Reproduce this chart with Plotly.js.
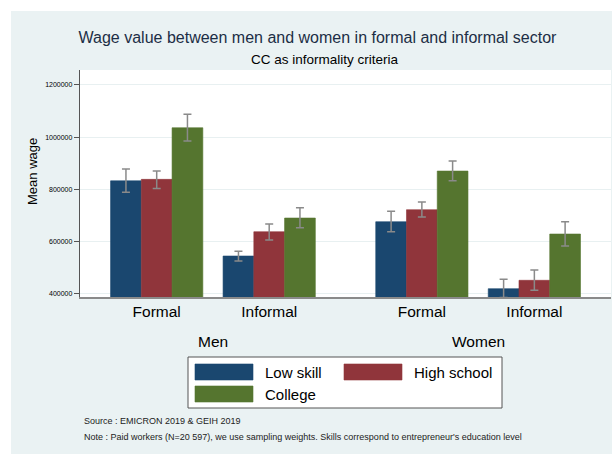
<!DOCTYPE html>
<html>
<head>
<meta charset="utf-8">
<script src="https://cdn.plot.ly/plotly-3.0.1.min.js"></script>
<style>html,body{margin:0;padding:0;background:#fff;}#chart{width:612px;height:454px;}</style>
</head>
<body>
<div id="chart"></div>
<script>
// ---- data ----
const genders = ["Men", "Women"];
const sectors = ["Formal", "Informal"];
const seriesNames = ["Low skill", "High school", "College"];
// values ordered: Men-Formal, Men-Informal, Women-Formal, Women-Informal
const lowSkill   = [833000, 545300, 676500, 420300];
const highSchool = [838600, 638200, 722400, 452400];
const college    = [1036000, 690600, 870400, 629400];
const lowSkillHi   = [878000, 563300, 716200, 456200];
const lowSkillLo   = [789000, 526200, 638200, 387000];
const highSchoolHi = [871000, 667700, 751800, 491800];
const highSchoolLo = [804000, 606500, 694500, 414100];
const collegeHi    = [1088000, 730000, 908600, 676500];
const collegeLo    = [985000, 653500, 833300, 583500];
const yTicks = [400000, 600000, 800000, 1000000, 1200000];
const titleText = "Wage value between men and women in formal and informal sector";
const subtitleText = "CC as informality criteria";
const yTitle = "Mean wage";
const sourceText = "Source : EMICRON 2019 & GEIH 2019";
const noteText = "Note : Paid workers (N=20 597), we use sampling weights. Skills correspond to entrepreneur's education level";

// ---- layout helpers ----
const L = 80, R = 611, T = 70, B = 297;
const fx = p => (p - L) / (R - L);
const fy = p => (B - p) / (B - T);
const colors = ["#1a476f", "#90353b", "#55752f"];
const genderStep = 2.357;
const positions = [];
const tickText = [];
genders.forEach((g, gi) => sectors.forEach((s, si) => { positions.push(1 + si + gi * genderStep); tickText.push(s); }));

const vals = [lowSkill, highSchool, college];
const his = [lowSkillHi, highSchoolHi, collegeHi];
const los = [lowSkillLo, highSchoolLo, collegeLo];

const traces = seriesNames.map((name, i) => ({
  type: "bar", name: name, x: positions, y: vals[i],
  marker: { color: colors[i], line: { width: 0.6, color: colors[i] } },
  error_y: { type: "data", symmetric: false,
    array: his[i].map((h, k) => h - vals[i][k]),
    arrayminus: los[i].map((l, k) => vals[i][k] - l),
    color: "#8a8a8a", thickness: 1.5, width: 4 },
  showlegend: false, hoverinfo: "skip"
}));

const FONT = "Liberation Sans, Arial, sans-serif";
function note(text, x, y, size, opts) {
  return Object.assign({ text: text, xref: "paper", yref: "paper", x: x, y: y, xanchor: "center", yanchor: "middle",
    showarrow: false, font: { family: FONT, size: size, color: "#000" } }, opts || {});
}
const annotations = [
  note(subtitleText, fx(324.5), fy(59), 13.5),
  note(yTitle, fx(32), fy(172), 13, { textangle: -90 }),
  note(sourceText, fx(82), fy(420.5), 9, { xanchor: "left", font: { family: FONT, size: 9, color: "#222" } }),
  note(noteText, fx(82), fy(437), 9, { xanchor: "left", font: { family: FONT, size: 9, color: "#222" } })
];
genders.forEach((g, gi) => {
  const xc = (positions[gi * 2] + positions[gi * 2 + 1]) / 2;
  annotations.push(note(g, xc, fy(341.5), 15.5, { xref: "x" }));
});

// custom legend
const shapes = [
  { type: "rect", xref: "paper", yref: "paper", x0: fx(0), x1: fx(612), y0: fy(0), y1: fy(11), fillcolor: "#fff", line: { width: 0 } },
  { type: "rect", xref: "paper", yref: "paper", x0: fx(0), x1: fx(11), y0: fy(0), y1: fy(454), fillcolor: "#fff", line: { width: 0 } },
  { type: "rect", xref: "paper", yref: "paper", x0: fx(188), x1: fx(502), y0: fy(357), y1: fy(408), fillcolor: "#fff", line: { width: 1, color: "#555" } }
];
const legendSlots = [ { sx: 195, ty: 372 }, { sx: 344, ty: 372 }, { sx: 195, ty: 394 } ];
seriesNames.forEach((name, i) => {
  const s = legendSlots[i];
  shapes.push({ type: "rect", xref: "paper", yref: "paper", x0: fx(s.sx), x1: fx(s.sx + 58), y0: fy(s.ty - 8), y1: fy(s.ty + 8), fillcolor: colors[i], line: { width: 0.6, color: colors[i] } });
  annotations.push(note(name, fx(s.sx + 68), fy(s.ty), 15, { xanchor: "left" }));
});

const layout = {
  width: 612, height: 454,
  margin: { l: L, r: 612 - R, t: T, b: 454 - B, pad: 0 },
  paper_bgcolor: "#eaf2f3", plot_bgcolor: "#ffffff",
  barmode: "group", bargap: 0.18, bargroupgap: 0,
  title: { text: titleText, x: 317.5 / 612, y: 1 - 37 / 454, xanchor: "center", yanchor: "middle", xref: "container", yref: "container", font: { family: FONT, size: 16, color: "#1c2e45" } },
  xaxis: { range: [1 - (156.7 - L) / 112.5, 1 + (R - 156.7) / 112.5], tickvals: positions, ticktext: tickText, ticks: "", showgrid: false, zeroline: false,
    showline: true, linecolor: "#8a8a8a", linewidth: 1.5, tickfont: { family: FONT, size: 15.5, color: "#000" } },
  yaxis: { range: [388500, 1257000], tickvals: yTicks, ticktext: yTicks.map(v => String(v)), ticks: "outside", ticklen: 5, tickcolor: "#555", tickwidth: 1,
    showgrid: true, gridcolor: "#e8f0f1", gridwidth: 1, zeroline: false, showline: true, linecolor: "#555", linewidth: 1.2,
    tickfont: { family: FONT, size: 7, color: "#000" } },
  annotations: annotations, shapes: shapes, showlegend: false
};
Plotly.newPlot("chart", traces, layout, { staticPlot: true, displayModeBar: false });
</script>
</body>
</html>
